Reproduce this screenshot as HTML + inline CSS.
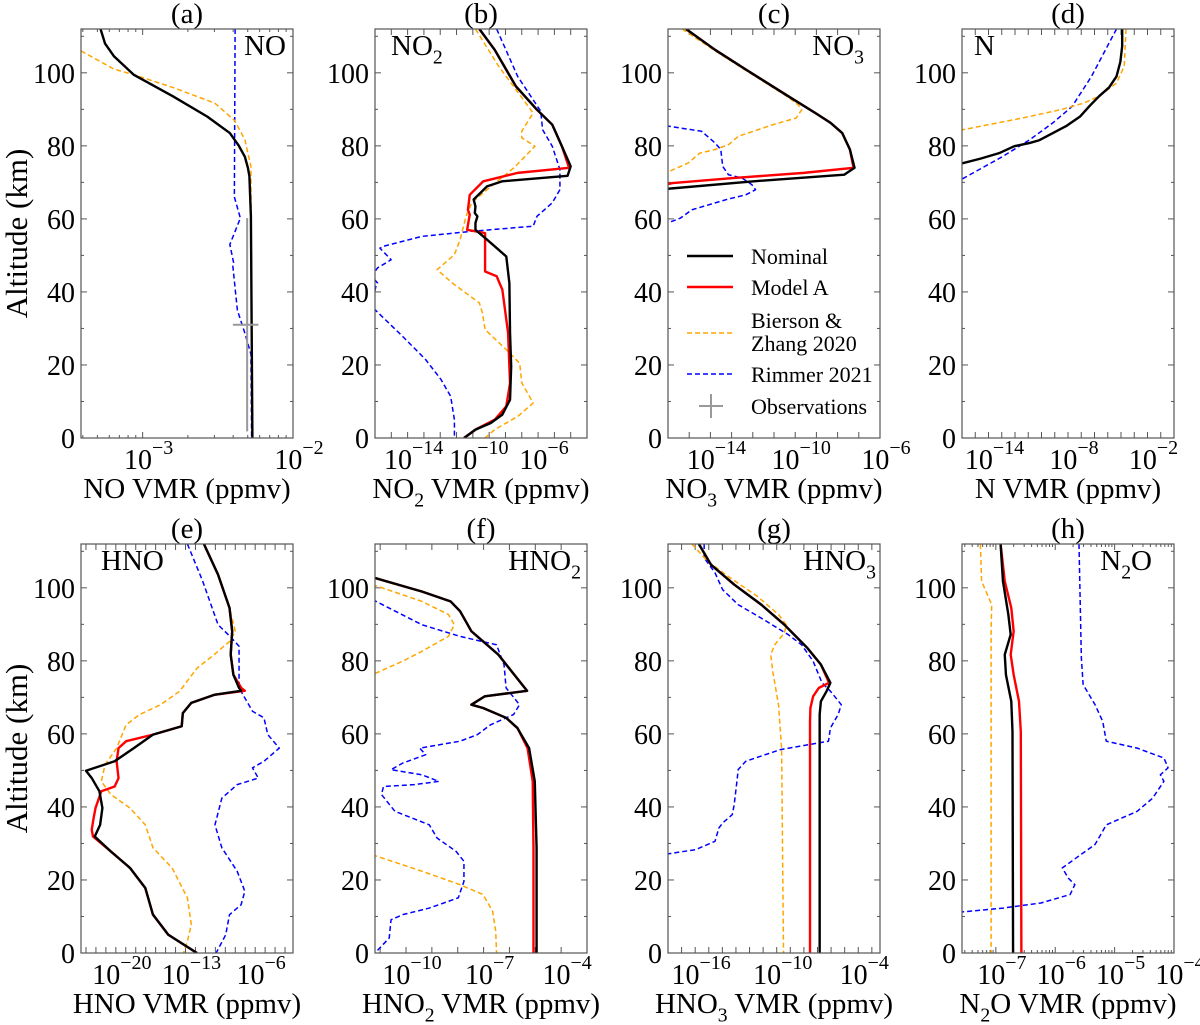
<!DOCTYPE html>
<html><head><meta charset="utf-8"><style>
html,body{margin:0;padding:0;background:#fff;}
svg{display:block;}
svg text{font-family:"Liberation Serif","Times New Roman",Times,serif;}
</style></head><body>
<svg id="fig" width="1200" height="1025" viewBox="0 0 1200 1025" xmlns="http://www.w3.org/2000/svg" font-family="'Liberation Serif', 'Times New Roman', Times, serif"></svg>
<script>
// ---------- DATA (altitude km, log10 VMR ppmv) ----------
const a_nom_alt=[112,108,104.5,99.5,93.6,88,83.5,80,77,74,71.7,60.7,0];
const a_nom_val=[-3.28,-3.25,-3.19,-3.06,-2.80,-2.57,-2.42,-2.36,-2.32,-2.30,-2.29,-2.28,-2.27];
const a_bz_alt=[106,101,99.5,96,91.7,87,84,81.7,78,74.4,0];
const a_bz_val=[-3.41,-3.19,-3.06,-2.80,-2.52,-2.39,-2.35,-2.32,-2.30,-2.28,-2.27];
const a_rim_alt=[112,66,60.2,53,48,47,35,28.7,23,0];
const a_rim_val=[-2.385,-2.39,-2.35,-2.42,-2.395,-2.40,-2.37,-2.32,-2.28,-2.275];
const a_obs_val=[-2.305];const a_obs_alt=[31];const a_obs_xlo=[-2.40];const a_obs_xhi=[-2.23];const a_obs_alo=[1.8];const a_obs_ahi=[60.2];

const b_nom_alt=[112,106.3,96.3,89.9,85.8,79.9,74.4,71.8,70.3,68.9,65.3,63.4,61.6,60.7,58.9,57,55.2,52.5,49.7,42.4,28.8,19.6,10.5,6.4,4.1,2.3,0];
const b_nom_val=[-9.6,-8.66,-7.36,-6.07,-5.13,-4.54,-4.0,-4.19,-8.19,-9.13,-9.95,-9.84,-9.88,-9.72,-9.84,-9.84,-9.36,-8.66,-7.95,-7.76,-7.72,-7.65,-7.72,-8.19,-8.9,-9.84,-10.54];
const b_ma_alt=[112,106.3,96.3,89.9,85.8,79.9,74.0,72.6,70.3,66.6,62.5,61.2,57,56.1,45.6,44.3,40.6,28.8,15,8.7,5,2.3,0];
const b_ma_val=[-9.6,-8.66,-7.36,-6.07,-5.13,-4.54,-4.1,-7.25,-9.36,-10.19,-10.3,-10.19,-10.35,-9.25,-9.25,-8.54,-8.19,-7.84,-7.72,-7.95,-8.66,-9.84,-10.54];
const b_bz_alt=[112,101.8,95.4,89,84,82.2,79.9,74,68,64.4,60.7,54.3,50.2,46.1,42.4,37,34.2,29.7,24.2,20.5,15.1,9.6,5.9,2.3,0];
const b_bz_val=[-9.84,-8.42,-7.36,-6.3,-7.0,-7.0,-6.19,-7.48,-9.13,-10.07,-10.42,-10.78,-11.13,-12.19,-11.25,-9.6,-9.41,-9.25,-7.95,-7.13,-7.0,-6.3,-7.25,-8.66,-9.25];
const b_rim_alt=[112,99,89.5,84.4,79.9,73.5,68,64.4,60.7,58,56.6,55.2,52.5,52,48.8,46.6,44.3,42.4,41.5,36,27.8,21.5,16,11.4,5,0];
const b_rim_val=[-8.54,-7.25,-5.84,-5.72,-5.13,-4.66,-4.66,-5.13,-6.07,-6.3,-10.07,-13.13,-15.48,-15.7,-15.01,-15.84,-16.2,-15.84,-15.95,-16.2,-14.3,-12.9,-11.95,-11.36,-11.13,-11.13];

const c_nom_alt=[112,106.3,100.9,93.6,89,86.3,83.5,79,74,72.1,70.3,68.2];
const c_nom_val=[-15.15,-13.78,-12.33,-10.33,-9.05,-8.33,-7.78,-7.42,-7.2,-7.69,-11.96,-16.1];
const c_ma_alt=[112,106.3,100.9,93.6,89,86.3,83.5,79,74,72.6,71.2,69.8,69.4];
const c_ma_val=[-15.15,-13.78,-12.33,-10.33,-9.05,-8.33,-7.78,-7.42,-7.25,-9.6,-12.87,-15.78,-16.1];
const c_bz_alt=[112,106.3,100.9,93.6,91.3,89.9,87.6,85.8,82.6,80.3,79,78,75.3,72.6];
const c_bz_val=[-15.33,-13.85,-12.4,-10.4,-9.87,-9.69,-9.96,-11.05,-12.69,-13.15,-13.78,-14.5,-15.05,-16.1];
const c_rim_alt=[85.5,84,80.8,79,74.4,72.1,71.2,69.4,68,66.6,65.3,62.5,60.2,58.7];
const c_rim_val=[-16.1,-14.42,-13.78,-13.51,-13.42,-13.15,-12.51,-12.05,-11.87,-12.33,-13.24,-14.87,-15.42,-16.1];

const d_nom_alt=[112,107.3,103,99,96,93.6,91,88,85.5,83.5,81.5,80.8,79.9,78,76.5,75.1];
const d_nom_val=[-3.91,-3.91,-4.05,-4.34,-4.9,-5.65,-6.35,-7.1,-8.1,-9.14,-10.2,-10.88,-12.05,-13.2,-14.6,-16.1];
const d_bz_alt=[112,101.8,97.2,93.6,91.7,89.9,87.6,84.3];
const d_bz_val=[-3.62,-3.76,-4.34,-5.65,-6.81,-8.56,-11.47,-16.1];
const d_rim_alt=[112,99,90.8,86.3,81.7,77.1,70.7];
const d_rim_val=[-4.34,-6.23,-7.69,-9.14,-10.88,-12.92,-16.1];

const e_nom_alt=[112,103.6,94.5,88.1,81.7,76.2,72.6,71.8,70.7,68.5,65.7,62.1,59.8,56.1,52.5,49.9,47.9,44.3,39.7,35.1,31.9,27.8,23.3,17.8,10.5,5,0];
const e_nom_val=[-11.15,-9.73,-8.58,-8.31,-8.46,-8.19,-7.62,-7.42,-10.12,-12.42,-13.27,-13.38,-16.27,-18.19,-20.12,-23,-22.42,-21.65,-21.35,-21.58,-22.12,-20.5,-18.58,-17.04,-16.27,-14.73,-11.85];
const e_ma_alt=[112,103.6,94.5,88.1,81.7,76.2,72.6,71.8,70.7,68.5,65.7,62.1,59.8,58,56.1,52.5,47.9,45.6,44.3,39.7,37,33.8,31.9,27.8,23.3,17.8,10.5,5,0];
const e_ma_val=[-11.15,-9.73,-8.58,-8.31,-8.46,-8.19,-7.4,-7.04,-10.12,-12.42,-13.27,-13.38,-16.27,-18.96,-19.73,-19.92,-19.73,-20.12,-21.46,-22.04,-22.23,-22.42,-22.3,-20.5,-18.58,-17.04,-16.27,-14.73,-11.85];
const e_bz_alt=[112,103.6,94.5,88.1,85.3,81.7,78,71.7,68,65.3,62.5,56.1,51.6,47,43.4,39.7,35.1,28.8,23.3,15.1,7.8,3.2,0];
const e_bz_val=[-11.15,-9.73,-8.58,-8.0,-8.58,-10.12,-11.85,-13.58,-15.5,-17.62,-18.96,-19.92,-21.08,-21.46,-20.5,-18.58,-17.04,-16.27,-14.35,-12.81,-12.42,-12.81,-13.19];
const e_rim_alt=[112,101.8,89.9,86.3,84,72.6,66.2,64.4,59.8,56.1,52.5,50.7,47.9,46.1,42.4,35.1,28.8,22.4,16.9,13.2,10.5,5,0];
const e_rim_val=[-12.81,-11.27,-9.73,-8.38,-7.62,-7.62,-6.27,-5.12,-4.73,-3.58,-5.12,-6.27,-5.69,-7.81,-9.35,-10.04,-9.35,-7.81,-7.04,-7.42,-8.58,-8.96,-9.92];

const f_nom_alt=[102.9,99,96.3,93.6,88.1,81.7,71.8,70.3,68,67.1,64.4,61.6,56.1,47,28.8,0];
const f_nom_val=[-11.3,-9.39,-8.28,-7.91,-7.47,-6.43,-5.32,-6.95,-7.47,-7.02,-6.13,-5.69,-5.24,-5.02,-4.95,-4.95];
const f_ma_alt=[102.9,99,96.3,93.6,88.1,81.7,71.8,70.3,68,67.1,64.4,61.6,56.1,47,28.8,0];
const f_ma_val=[-11.3,-9.39,-8.28,-7.91,-7.47,-6.43,-5.32,-6.95,-7.47,-7.02,-6.13,-5.69,-5.30,-5.10,-5.07,-5.07];
const f_bz_alt=[100.9,96.3,92.7,89.9,86.7,82.6,79.9,78.5,76.2];
const f_bz_val=[-11.3,-9.39,-8.36,-8.13,-8.36,-9.39,-10.13,-10.58,-11.3];
const f_bz2_alt=[26.9,22.4,18.7,16,11.4,5.9,0];
const f_bz2_val=[-11.3,-9.39,-7.91,-7.02,-6.65,-6.53,-6.5];
const f_rim_alt=[96.8,89.9,86.7,84.4,79,72.6,68,65.3,62.5,59.8,58,56.1,54.3,52,50.2,48.8,47,46.1,45.6,43.4,38.8,35.1,31.5,27.8,25.1,19.6,15.1,12.3,10.5,9.1,4.1,0];
const f_rim_val=[-11.3,-9.39,-7.91,-6.5,-6.21,-6.13,-5.61,-5.84,-6.73,-7.24,-7.91,-9.47,-9.24,-10.13,-10.58,-9.39,-8.73,-9.69,-10.87,-10.95,-10.43,-9.1,-8.8,-8.06,-7.76,-7.76,-7.98,-9.1,-10.13,-10.58,-10.65,-11.2];

const g_nom_alt=[112,106.3,100.9,95.4,89.9,83.5,79,74,71.7,68.9,65.3,0];
const g_nom_val=[-15.73,-14.83,-13.13,-11.14,-9.44,-7.74,-6.75,-6.05,-6.33,-6.75,-6.84,-6.84];
const g_ma_alt=[112,106.3,100.9,95.4,89.9,83.5,79,74,72.6,70.3,67.1,63.4,0];
const g_ma_val=[-15.73,-14.83,-13.13,-11.14,-9.44,-7.74,-6.75,-6.15,-6.9,-7.32,-7.52,-7.55,-7.55];
const g_bz_alt=[112,107.3,102.7,97.7,92.7,89.9,87.6,84.4,81.7,77.1,68,56.1,0];
const g_bz_val=[-16.24,-15.1,-13.41,-11.43,-9.87,-9.3,-9.44,-10.15,-10.44,-10.29,-9.87,-9.64,-9.5];
const g_rim_alt=[112,108.2,104.1,99.5,95.4,91.7,87.2,84.4,79.9,74,71.7,68,65.3,61.6,58,55.7,52.5,50.2,47.9,40.6,37.9,35.6,34.2,30.6,28.3,27.1];
const g_rim_val=[-15.34,-15.34,-14.54,-13.98,-12.84,-11.14,-9.16,-8.17,-7.32,-6.67,-6.05,-5.25,-5.48,-6.05,-6.19,-9.73,-12.28,-12.84,-12.9,-13.13,-13.27,-13.98,-14.26,-14.54,-15.96,-18.1];

const h_nom_alt=[112,101.8,92.7,87.2,81.7,76.2,68.9,60.7,0];
const h_nom_val=[-6.92,-6.88,-6.79,-6.75,-6.85,-6.83,-6.74,-6.72,-6.71];
const h_ma_alt=[112,101.8,94.5,88.1,81.7,76.2,68.9,60.7,0];
const h_ma_val=[-6.92,-6.85,-6.74,-6.7,-6.75,-6.7,-6.61,-6.58,-6.57];
const h_bz_alt=[112,101.8,95.4,88.1,0];
const h_bz_val=[-7.26,-7.24,-7.07,-7.08,-7.08];
const h_rim_alt=[112,80.8,73.5,68,63.4,58,56.1,53.4,50.7,48.8,47,42.4,38.8,35.1,29.7,26,23.3,20.5,18.7,16,13.7,12.3,11.2];
const h_rim_val=[-5.6,-5.56,-5.53,-5.33,-5.2,-5.14,-4.62,-4.17,-4.1,-4.23,-4.17,-4.36,-4.62,-5.14,-5.33,-5.65,-5.88,-5.78,-5.67,-5.75,-6.24,-6.88,-7.6];

// x-axis ranges (log10) and tick labels
const xRanges={a:[-3.41,-2.0],b:[-16,-3],c:[-16,-6],d:[-16,0],e:[-23.5,-2.2],f:[-11.2,-3],g:[-18,-2.4],h:[-7.57,-4]};
const xTickLabels={a:[-3,-2],b:[-14,-10,-6],c:[-14,-10,-6],d:[-14,-8,-2],e:[-20,-13,-6],f:[-10,-7,-4],g:[-16,-10,-4],h:[-7,-6,-5,-4]};
const yTicks=[0,20,40,60,80,100];

// ---------- DRAW ----------
const NS="http://www.w3.org/2000/svg";
const FONT="'Liberation Serif', 'Times New Roman', Times, serif";
const svg=document.getElementById('fig');
function mk(tag,attrs,parent){const e=document.createElementNS(NS,tag);for(const k in attrs)e.setAttribute(k,attrs[k]);if(tag==='text')e.setAttribute('font-family',FONT);(parent||svg).appendChild(e);return e;}
const W=212,H=409,YMAX=112;
const COLS=[81,375,668,962],ROWS=[29,544];
const STY={nom:{stroke:'#000',w:2.4,dash:null},ma:{stroke:'#ff0000',w:2.4,dash:null},bz:{stroke:'#ffa500',w:1.5,dash:'5,3'},rim:{stroke:'#0000ff',w:1.5,dash:'5,3'}};

const panels=[
 {id:'a',col:0,row:0,title:'(a)',xl:['NO',null,' VMR (ppmv)'],sp:['NO',null],spAnchor:'end',spX:205,
  series:[['rim',a_rim_alt,a_rim_val],['bz',a_bz_alt,a_bz_val],['nom',a_nom_alt,a_nom_val]],obs:true,minor:true},
 {id:'b',col:1,row:0,title:'(b)',xl:['NO','2',' VMR (ppmv)'],sp:['NO','2'],spAnchor:'start',spX:16,
  series:[['rim',b_rim_alt,b_rim_val],['bz',b_bz_alt,b_bz_val],['ma',b_ma_alt,b_ma_val],['nom',b_nom_alt,b_nom_val]]},
 {id:'c',col:2,row:0,title:'(c)',xl:['NO','3',' VMR (ppmv)'],sp:['NO','3'],spAnchor:'end',spX:196,legend:true,
  series:[['rim',c_rim_alt,c_rim_val],['bz',c_bz_alt,c_bz_val],['ma',c_ma_alt,c_ma_val],['nom',c_nom_alt,c_nom_val]]},
 {id:'d',col:3,row:0,title:'(d)',xl:['N',null,' VMR (ppmv)'],sp:['N',null],spAnchor:'start',spX:12,
  series:[['rim',d_rim_alt,d_rim_val],['bz',d_bz_alt,d_bz_val],['nom',d_nom_alt,d_nom_val]]},
 {id:'e',col:0,row:1,title:'(e)',xl:['HNO',null,' VMR (ppmv)'],sp:['HNO',null],spAnchor:'start',spX:20,
  series:[['rim',e_rim_alt,e_rim_val],['bz',e_bz_alt,e_bz_val],['ma',e_ma_alt,e_ma_val],['nom',e_nom_alt,e_nom_val]]},
 {id:'f',col:1,row:1,title:'(f)',xl:['HNO','2',' VMR (ppmv)'],sp:['HNO','2'],spAnchor:'end',spX:206,
  series:[['rim',f_rim_alt,f_rim_val],['bz',f_bz_alt,f_bz_val],['bz',f_bz2_alt,f_bz2_val],['ma',f_ma_alt,f_ma_val],['nom',f_nom_alt,f_nom_val]]},
 {id:'g',col:2,row:1,title:'(g)',xl:['HNO','3',' VMR (ppmv)'],sp:['HNO','3'],spAnchor:'end',spX:208,
  series:[['rim',g_rim_alt,g_rim_val],['bz',g_bz_alt,g_bz_val],['ma',g_ma_alt,g_ma_val],['nom',g_nom_alt,g_nom_val]]},
 {id:'h',col:3,row:1,title:'(h)',xl:['N','2','O VMR (ppmv)'],sp:['N','2','O'],spAnchor:'end',spX:190,
  series:[['rim',h_rim_alt,h_rim_val],['bz',h_bz_alt,h_bz_val],['ma',h_ma_alt,h_ma_val],['nom',h_nom_alt,h_nom_val]],minor:true},
];
const SNAME={nom:'nominal',ma:'model-a',bz:'bierson-zhang-2020',rim:'rimmer-2021'};

function subText(parent,x,y,parts,size,anchor,name){
  const t=mk('text',{x:x,y:y,'font-size':size,'text-anchor':anchor,fill:'#000'},parent);
  
  
  const s1=mk('tspan',{},t);s1.textContent=parts[0];
  if(parts[1]){const s2=mk('tspan',{dy:size*0.3,'font-size':size*0.68},t);s2.textContent=parts[1];}
  if(parts[2]){const s3=mk('tspan',{dy:parts[1]?-size*0.3:0},t);s3.textContent=parts[2];}
  return t;
}

panels.forEach(p=>{
  const x0=COLS[p.col],y0=ROWS[p.row];
  const [xmin,xmax]=xRanges[p.id];
  const X=v=>x0+(v-xmin)/(xmax-xmin)*W;
  const Y=a=>y0+H-a/YMAX*H;
  const g=mk('g',{});
  
  
  const cp=mk('clipPath',{id:'clip-'+p.id},g);
  mk('rect',{x:x0,y:y0,width:W,height:H},cp);
  const tt=mk('text',{x:x0+W/2,y:y0-6,'font-size':29,'text-anchor':'middle'},g);
  tt.textContent=p.title;
  
  
  const tk=mk('g',{stroke:'#555','stroke-width':1},g);
  
  
  for(let a=0;a<=110;a+=10){
    const L=(a%20===0)?6:3;
    mk('line',{x1:x0,x2:x0+L,y1:Y(a),y2:Y(a)},tk);
    mk('line',{x1:x0+W,x2:x0+W-L,y1:Y(a),y2:Y(a)},tk);
  }
  for(let d=Math.ceil(xmin);d<=Math.floor(xmax);d++){
    mk('line',{x1:X(d),x2:X(d),y1:y0+H,y2:y0+H-6},tk);
    mk('line',{x1:X(d),x2:X(d),y1:y0,y2:y0+6},tk);
    if(p.minor){for(let m=2;m<10;m++){const v=d+Math.log10(m);if(v<xmax){mk('line',{x1:X(v),x2:X(v),y1:y0+H,y2:y0+H-3},tk);mk('line',{x1:X(v),x2:X(v),y1:y0,y2:y0+3},tk);}}}
  }
  if(p.minor){for(let m=2;m<10;m++){const v=Math.floor(xmin)+Math.log10(m);if(v>xmin){mk('line',{x1:X(v),x2:X(v),y1:y0+H,y2:y0+H-3},tk);mk('line',{x1:X(v),x2:X(v),y1:y0,y2:y0+3},tk);}}}
  yTicks.forEach(a=>{
    const t=mk('text',{x:x0-6,y:Y(a)+10,'font-size':28,'text-anchor':'end'},g);
    t.textContent=a;
    
    
  });
  xTickLabels[p.id].forEach(d=>{
    const t=mk('text',{x:X(d)+6,y:y0+H+31,'font-size':28,'text-anchor':'middle'},g);
    
    
    const s1=mk('tspan',{},t);s1.textContent='10';
    const s2=mk('tspan',{dy:-15,'font-size':20},t);s2.textContent='\u2212'+Math.abs(d);
  });
  subText(g,x0+W/2,y0+H+60,p.xl,29,'middle','x-axis-title-'+p.id);
  subText(g,x0+p.spX,y0+26,p.sp,29,p.spAnchor,'species-label-'+p.id);
  const sg=mk('g',{'clip-path':'url(#clip-'+p.id+')'},g);
  p.series.forEach(s=>{
    const st=STY[s[0]],alt=s[1],val=s[2];
    let d='';
    for(let i=0;i<alt.length;i++)d+=(i?'L':'M')+X(val[i]).toFixed(2)+','+Y(alt[i]).toFixed(2);
    const path=mk('path',{d:d,fill:'none',stroke:st.stroke,'stroke-width':st.w,'stroke-linejoin':'round'},sg);
    if(st.dash)path.setAttribute('stroke-dasharray',st.dash);
    
    
  });
  if(p.obs){
    const og=mk('g',{stroke:'#999','stroke-width':2},g);
    
    
    mk('line',{x1:X(a_obs_val[0]),x2:X(a_obs_val[0]),y1:Y(a_obs_alo[0]),y2:Y(a_obs_ahi[0])},og);
    mk('line',{x1:X(a_obs_xlo[0]),x2:X(a_obs_xhi[0]),y1:Y(a_obs_alt[0]),y2:Y(a_obs_alt[0])},og);
  }
  const fr=mk('rect',{x:x0,y:y0,width:W,height:H,fill:'none',stroke:'#555','stroke-width':1.2},g);
  
  
  if(p.legend){
    const lg=mk('g',{},g);
    
    
    const lx1=x0+19,lx2=x0+65,tx=x0+83;
    const items=[['nom',256,['Nominal']],['ma',287,['Model A']],['bz',333,['Bierson &','Zhang 2020']],['rim',374,['Rimmer 2021']]];
    items.forEach(it=>{
      const st=STY[it[0]];
      const ln=mk('line',{x1:lx1,x2:lx2,y1:it[1],y2:it[1],stroke:st.stroke,'stroke-width':st.w},lg);
      if(st.dash)ln.setAttribute('stroke-dasharray',st.dash);
      if(it[2].length===1){const t=mk('text',{x:tx,y:it[1]+8,'font-size':22},lg);t.textContent=it[2][0];}
      else{const t1=mk('text',{x:tx,y:it[1]-5,'font-size':22},lg);t1.textContent=it[2][0];const t2=mk('text',{x:tx,y:it[1]+18,'font-size':22},lg);t2.textContent=it[2][1];}
    });
    const cx=x0+43,cy=406;
    mk('line',{x1:cx,x2:cx,y1:cy-12,y2:cy+12,stroke:'#999','stroke-width':2},lg);
    mk('line',{x1:cx-12,x2:cx+12,y1:cy,y2:cy,stroke:'#999','stroke-width':2},lg);
    const to=mk('text',{x:tx,y:cy+8,'font-size':22},lg);to.textContent='Observations';
  }
});
ROWS.forEach(r=>{
  const cy=r+H/2;
  const t=mk('text',{x:0,y:0,'font-size':31,'text-anchor':'middle',transform:'translate(27,'+cy+') rotate(-90)'});
  t.textContent='Altitude (km)';
  
  
});
</script>
</body></html>
